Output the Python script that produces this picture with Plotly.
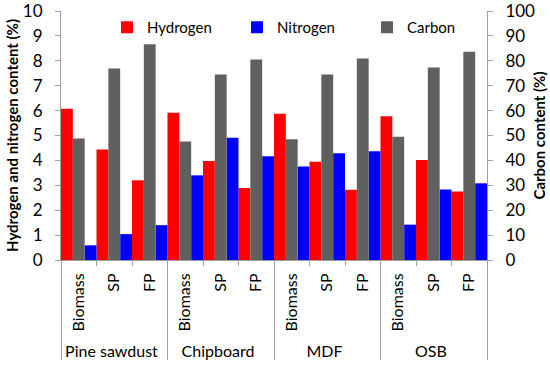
import plotly.graph_objects as go

groups = ["Pine sawdust", "Chipboard", "MDF", "OSB"]
subs = ["Biomass", "SP", "FP"]
hydrogen = [6.07, 4.44, 3.20, 5.91, 3.98, 2.89, 5.87, 3.95, 2.82, 5.77, 4.02, 2.75]
nitrogen = [0.59, 1.04, 1.40, 3.40, 4.91, 4.17, 3.76, 4.29, 4.37, 1.42, 2.83, 3.08]
carbon = [48.8, 76.9, 86.6, 47.6, 74.5, 80.5, 48.5, 74.5, 80.9, 49.5, 77.3, 83.6]

xg = [g for g in groups for _ in subs]
xs = [s for _ in groups for s in subs]
x = [xg, xs]

FONT = "Lato"
fig = go.Figure()
w = 1/3
fig.add_trace(go.Bar(x=x, y=hydrogen, name="Hydrogen", marker_color="#FF0000",
                     width=w, offset=-0.5, marker_line_width=0))
fig.add_trace(go.Bar(x=x, y=nitrogen, name="Nitrogen", marker_color="#0000FF",
                     width=w, offset=1/6, marker_line_width=0))
fig.add_trace(go.Bar(x=x, y=carbon, name="Carbon", marker_color="#606060",
                     width=w, offset=-1/6, marker_line_width=0, yaxis="y2"))

fig.update_layout(
    width=550, height=375,
    margin=dict(l=61, r=63, t=11, b=115, autoexpand=False),
    plot_bgcolor="white", paper_bgcolor="white",
    font=dict(family=FONT, size=15, color="black"),
    barmode="overlay",
    showlegend=True,
    legend=dict(orientation="h", x=0.108, y=1.0, xanchor="left", yanchor="top",
                font=dict(size=15), bgcolor="rgba(0,0,0,0)", itemwidth=30,
                entrywidth=85, traceorder="normal"),
    xaxis=dict(type="multicategory", showline=True, linecolor="#a0a0a0",
               ticks="outside", tickcolor="#a0a0a0", tickangle=-90,
               showdividers=True, dividercolor="#a0a0a0", dividerwidth=1,
               tickfont=dict(size=16), showgrid=False, automargin=False,
               ticklabelstandoff=6),
    yaxis=dict(range=[0, 10], dtick=1, showline=True, linecolor="#a0a0a0",
               ticks="outside", tickcolor="#a0a0a0", ticklen=5, showgrid=False,
               tickfont=dict(size=17), zeroline=False, automargin=False,
               ticklabeloverflow="allow", ticklabelstandoff=9,
               title=dict(text="<b>Hydrogen and nitrogen content (%)</b>",
                          font=dict(size=15), standoff=0)),
    yaxis2=dict(range=[0, 100], dtick=10, overlaying="y", side="right",
                showline=True, linecolor="#a0a0a0", ticks="outside",
                tickcolor="#a0a0a0", ticklen=5, showgrid=False,
                tickfont=dict(size=17), zeroline=False, automargin=False,
                ticklabeloverflow="allow", ticklabelstandoff=9,
                title=dict(text="<b>Carbon content (%)</b>", font=dict(size=15),
                           standoff=0)),
)
fig.write_html("out.html", config={"displayModeBar": False},
               post_script="document.body.style.margin='0';document.body.style.padding='0';")
